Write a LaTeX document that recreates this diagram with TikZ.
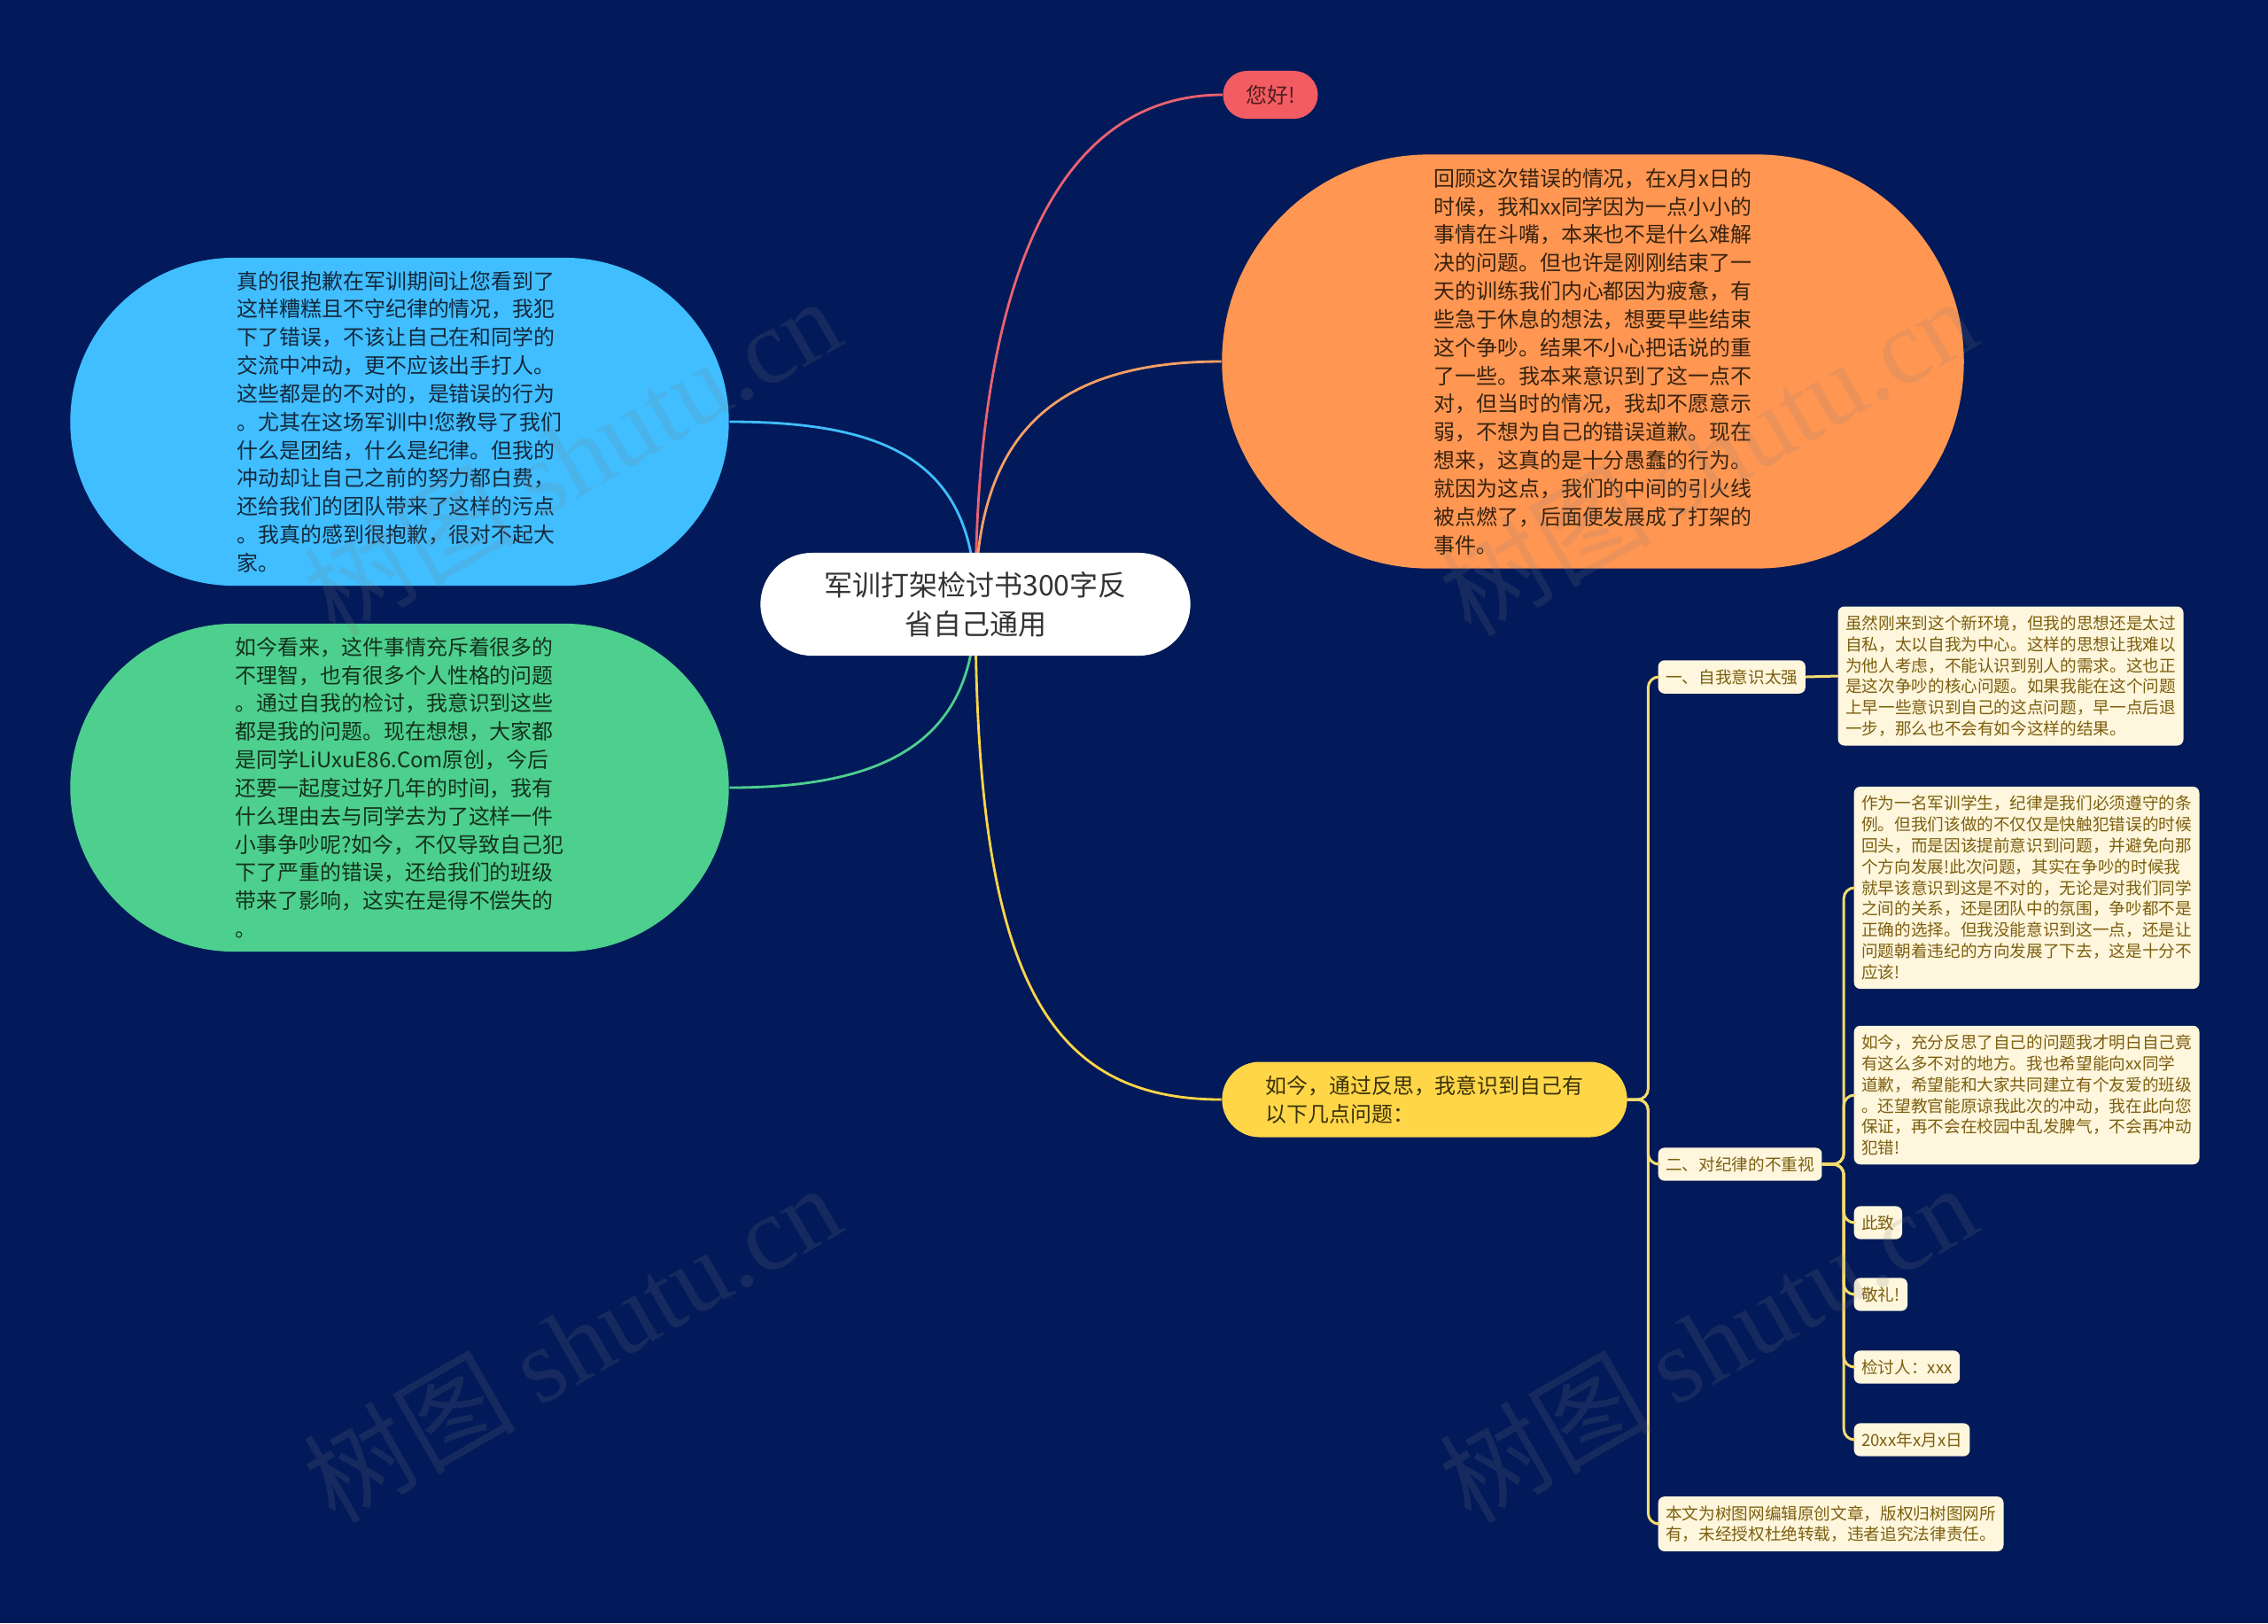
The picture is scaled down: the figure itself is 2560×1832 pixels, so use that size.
\documentclass[tikz,border=0pt]{standalone}
\usepackage{fontspec}
\setmainfont{Noto Sans CJK SC}
\newfontfamily\wmfont{Liberation Serif}
\usetikzlibrary{shapes.misc,backgrounds}
\definecolor{bgnavy}{RGB}{2,26,89}
\definecolor{hellofill}{RGB}{242,92,98}
\definecolor{lnred}{RGB}{236,98,112}
\definecolor{orgfill}{RGB}{255,150,82}
\definecolor{lnorg}{RGB}{250,160,100}
\definecolor{blufill}{RGB}{64,190,255}
\definecolor{grnfill}{RGB}{77,207,142}
\definecolor{yelfill}{RGB}{255,214,72}
\definecolor{lnyel}{RGB}{245,220,110}
\definecolor{cardbg}{RGB}{254,246,221}
\definecolor{cardtxt}{RGB}{125,95,15}
\newcommand\bigtxt{\fontsize{6.8pt}{9.05pt}\selectfont}
\newcommand\smtxt{\fontsize{5.3pt}{6.78pt}\selectfont}
\newcommand\cntxt{\fontsize{9.1pt}{12.5pt}\selectfont}
\begin{document}
\begin{tikzpicture}[x=0.01cm, y=-0.01cm, line join=round, line cap=round,
  pill/.style={rounded rectangle, inner sep=0pt, align=left, font=\bigtxt},
  card/.style={rectangle, rounded corners=0.07cm, fill=cardbg, text=cardtxt, inner xsep=0.085cm, inner ysep=0.1cm, align=left, font=\smtxt},
  link/.style={line width=0.8pt},
  fork/.style={line width=0.85pt, draw=lnyel, rounded corners=0.12cm},
  wmark/.style={rotate=30, text=gray, opacity=0.16, font=\fontsize{34pt}{34pt}\selectfont}]
\useasboundingbox (0,0) rectangle (2560,1832);
\node[pill, fill=white, text={rgb,255:red,51;green,51;blue,51}, align=center, font=\cntxt, minimum width=4.85cm, minimum height=1.16cm] (cn) at (1101,682) {军训打架检讨书300字反\\省自己通用};
\node[pill, fill=hellofill, text={rgb,255:red,80;green,30;blue,30}, minimum width=1.07cm, minimum height=0.54cm] (hello) at (1434,107) {您好!};
\node[pill, fill=orgfill, text={rgb,255:red,55;green,35;blue,15}, minimum width=8.37cm, minimum height=4.67cm] (org) at (1798,408) {回顾这次错误的情况，在x月x日的\\时候，我和xx同学因为一点小小的\\事情在斗嘴，本来也不是什么难解\\决的问题。但也许是刚刚结束了一\\天的训练我们内心都因为疲惫，有\\些急于休息的想法，想要早些结束\\这个争吵。结果不小心把话说的重\\了一些。我本来意识到了这一点不\\对，但当时的情况，我却不愿意示\\弱，不想为自己的错误道歉。现在\\想来，这真的是十分愚蠢的行为。\\就因为这点，我们的中间的引火线\\被点燃了，后面便发展成了打架的\\事件。};
\node[pill, fill=blufill, text={rgb,255:red,20;green,40;blue,60}, minimum width=7.43cm, minimum height=3.70cm] (blu) at (451,476) {真的很抱歉在军训期间让您看到了\\这样糟糕且不守纪律的情况，我犯\\下了错误，不该让自己在和同学的\\交流中冲动，更不应该出手打人。\\这些都是的不对的，是错误的行为\\。尤其在这场军训中!您教导了我们\\什么是团结，什么是纪律。但我的\\冲动却让自己之前的努力都白费，\\还给我们的团队带来了这样的污点\\。我真的感到很抱歉，很对不起大\\家。};
\node[pill, fill=grnfill, text={rgb,255:red,20;green,50;blue,30}, minimum width=7.43cm, minimum height=3.70cm] (grn) at (451,889) {如今看来，这件事情充斥着很多的\\不理智，也有很多个人性格的问题\\。通过自我的检讨，我意识到这些\\都是我的问题。现在想想，大家都\\是同学LiUxuE86.Com原创，今后\\还要一起度过好几年的时间，我有\\什么理由去与同学去为了这样一件\\小事争吵呢?如今，不仅导致自己犯\\下了严重的错误，还给我们的班级\\带来了影响，这实在是得不偿失的\\。};
\node[pill, fill=yelfill, text={rgb,255:red,60;green,50;blue,10}, minimum width=4.57cm, minimum height=0.85cm] (yel) at (1608,1241) {如今，通过反思，我意识到自己有\\以下几点问题：};
\node[card, anchor=west] (s1) at (1871,764) {一、自我意识太强};
\node[card, anchor=west] (t1) at (2074,763) {虽然刚来到这个新环境，但我的思想还是太过\\自私，太以自我为中心。这样的思想让我难以\\为他人考虑，不能认识到别人的需求。这也正\\是这次争吵的核心问题。如果我能在这个问题\\上早一些意识到自己的这点问题，早一点后退\\一步，那么也不会有如今这样的结果。};
\node[card, anchor=west] (s2) at (1871,1314) {二、对纪律的不重视};
\node[card, anchor=west] (a1) at (2092,1002) {作为一名军训学生，纪律是我们必须遵守的条\\例。但我们该做的不仅仅是快触犯错误的时候\\回头，而是因该提前意识到问题，并避免向那\\个方向发展!此次问题，其实在争吵的时候我\\就早该意识到这是不对的，无论是对我们同学\\之间的关系，还是团队中的氛围，争吵都不是\\正确的选择。但我没能意识到这一点，还是让\\问题朝着违纪的方向发展了下去，这是十分不\\应该!};
\node[card, anchor=west] (a2) at (2092,1236) {如今，充分反思了自己的问题我才明白自己竟\\有这么多不对的地方。我也希望能向xx同学\\道歉，希望能和大家共同建立有个友爱的班级\\。还望教官能原谅我此次的冲动，我在此向您\\保证，再不会在校园中乱发脾气，不会再冲动\\犯错!};
\node[card, anchor=west] (a3) at (2092,1380) {此致};
\node[card, anchor=west] (a4) at (2092,1461) {敬礼!};
\node[card, anchor=west] (a5) at (2092,1543) {检讨人：xxx};
\node[card, anchor=west] (a6) at (2092,1625) {20xx年x月x日};
\node[card, anchor=west] (ft) at (1871,1720) {本文为树图网编辑原创文章，版权归树图网所\\有，未经授权杜绝转载，违者追究法律责任。};
\begin{scope}[on background layer]
\fill[bgnavy] (0,0) rectangle (2560,1832);
\draw[link, draw=lnred] (cn.center) .. controls (1101,300) and (1200,107) .. (hello.west);
\draw[link, draw=lnorg] (cn.center) .. controls (1101,500) and (1180,408) .. (org.west);
\draw[link, draw=blufill] (cn.center) .. controls (1101,520) and (1000,476) .. (blu.east);
\draw[link, draw=grnfill] (cn.center) .. controls (1101,830) and (1010,889) .. (grn.east);
\draw[link, draw=yelfill] (cn.center) .. controls (1101,1100) and (1180,1241) .. (yel.west);
\end{scope}
\foreach \k in {s1,s2,ft} \draw[fork] (yel.east) -- ++(23,0) |- (\k.west);
\draw[fork] (s1.east) -- (t1.west);
\foreach \k in {a1,a2,a3,a4,a5,a6} \draw[fork] (s2.east) -- ++(24,0) |- (\k.west);
\node[wmark] (wm1) at (645,514) {树图 {\wmfont shutu.cn}};
\node[wmark] (wm2) at (1927,514) {树图 {\wmfont shutu.cn}};
\node[wmark] (wm3) at (645,1515) {树图 {\wmfont shutu.cn}};
\node[wmark] (wm4) at (1927,1515) {树图 {\wmfont shutu.cn}};
\end{tikzpicture}
\end{document}
